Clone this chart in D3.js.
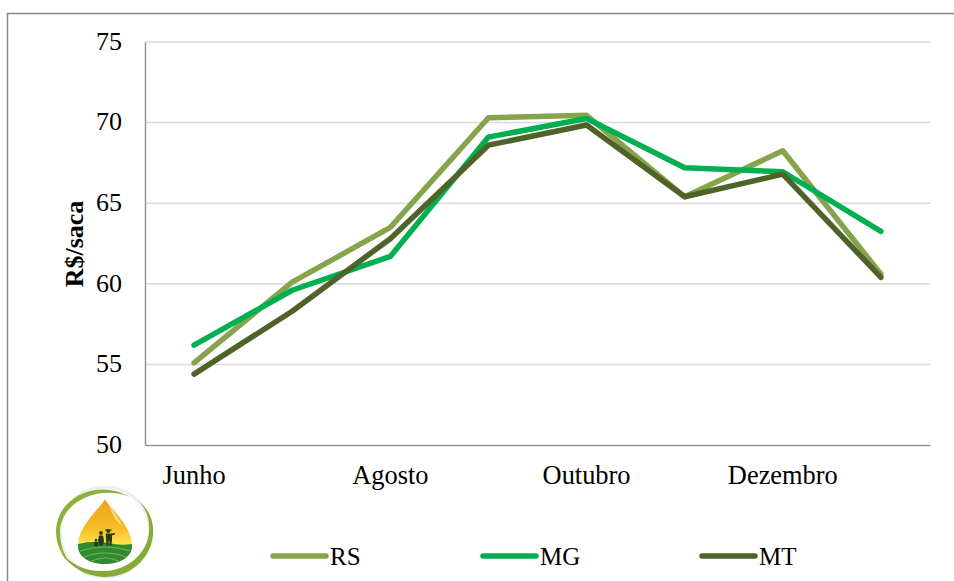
<!DOCTYPE html>
<html>
<head>
<meta charset="utf-8">
<script src="https://cdn.jsdelivr.net/npm/d3@7"></script>
<style>
  html, body { margin: 0; padding: 0; background: #fff; }
  svg { display: block; }
  text { font-family: "Liberation Serif", serif; fill: #000; }
</style>
</head>
<body>
<div id="chart"></div>
<script>
// Values
const months = ["Junho", "Julho", "Agosto", "Setembro", "Outubro", "Novembro", "Dezembro", "Janeiro"];
const monthLabels = ["Junho", "Agosto", "Outubro", "Dezembro"];
const yTicks = [50, 55, 60, 65, 70, 75];
const rs = [55.1, 60.1, 63.5, 70.3, 70.45, 65.4, 68.25, 60.6];
const mg = [56.2, 59.6, 61.7, 69.1, 70.25, 67.2, 66.95, 63.25];
const mt = [54.4, 58.3, 62.8, 68.6, 69.85, 65.4, 66.8, 60.4];
const seriesNames = ["RS", "MG", "MT"];
const seriesValues = [rs, mg, mt];
const seriesColors = ["#86a44c", "#00b050", "#4f6228"];

const width = 954, height = 581;
const margin = { top: 42, right: 24, bottom: 136, left: 145 };

const svg = d3.select("#chart").append("svg")
    .attr("width", width)
    .attr("height", height);

// Outer frame, only top and left show in the picture
svg.append("path")
    .attr("d", `M7.5,${height}V13.5H${width}`)
    .attr("fill", "none")
    .attr("stroke", "#868686")
    .attr("stroke-width", 1.5);

const x = d3.scaleBand()
    .domain(months)
    .range([margin.left, width - margin.right]);

const y = d3.scaleLinear()
    .domain([50, 75])
    .range([height - margin.bottom, margin.top]);

// Gridlines
svg.append("g")
    .selectAll("line")
    .data(yTicks.filter(d => d > 50))
    .enter().append("line")
    .attr("x1", margin.left)
    .attr("x2", width - margin.right)
    .attr("y1", d => y(d))
    .attr("y2", d => y(d))
    .attr("stroke", "#d9d9d9")
    .attr("stroke-width", 1.5);

// Axes
const yAxis = svg.append("g")
    .attr("transform", `translate(${margin.left},-1)`)
    .call(d3.axisLeft(y).tickValues(yTicks).tickSize(0).tickPadding(23));
yAxis.select(".domain").attr("transform", "translate(0,1)").attr("stroke", "#969696").attr("stroke-width", 1.5);
yAxis.selectAll("text").style("font-size", "26px").style("font-family", "Liberation Serif");

const xAxis = svg.append("g")
    .attr("transform", `translate(0,${height - margin.bottom})`)
    .call(d3.axisBottom(x).tickValues(monthLabels).tickSize(0).tickPadding(20));
xAxis.select(".domain").attr("stroke", "#969696").attr("stroke-width", 1.5);
xAxis.selectAll("text").style("font-size", "26.4px").style("font-family", "Liberation Serif");

// Y title
svg.append("text")
    .attr("transform", `translate(83,244) rotate(-90)`)
    .attr("text-anchor", "middle")
    .style("font-size", "26px")
    .style("font-weight", "bold")
    .text("R$/saca");

// Lines
const line = d3.line()
    .x((d, i) => x(months[i]) + x.bandwidth() / 2)
    .y(d => y(d));

svg.append("g")
    .selectAll("path")
    .data(seriesValues)
    .enter().append("path")
    .attr("d", line)
    .attr("fill", "none")
    .attr("stroke", (d, i) => seriesColors[i])
    .attr("stroke-width", 5.5)
    .attr("stroke-linejoin", "round")
    .attr("stroke-linecap", "round");

// Legend
const legendX = [271, 481, 700];
const legend = svg.append("g")
    .selectAll("g")
    .data(seriesNames)
    .enter().append("g")
    .attr("transform", (d, i) => `translate(${legendX[i]},556)`);

legend.append("line")
    .attr("x1", 2)
    .attr("x2", 55)
    .attr("stroke", (d, i) => seriesColors[i])
    .attr("stroke-width", 5.5)
    .attr("stroke-linecap", "round");

legend.append("text")
    .attr("x", 59)
    .attr("y", 9)
    .style("font-size", "25px")
    .text(d => d);

// Logo in the lower left corner
const logo = svg.append("g");
const defs = svg.append("defs");
const dropGrad = defs.append("linearGradient")
    .attr("id", "dropGrad")
    .attr("x1", 0).attr("x2", 0).attr("y1", 0).attr("y2", 1);
dropGrad.append("stop").attr("offset", "0%").attr("stop-color", "#eda41e");
dropGrad.append("stop").attr("offset", "45%").attr("stop-color", "#f6bd25");
dropGrad.append("stop").attr("offset", "70%").attr("stop-color", "#ffe650");
const dropPath = "M105,499C100,509 78,525 78,546C78,557 90,564 105,564C120,564 132,557 132,546C132,525 110,509 105,499Z";
defs.append("clipPath").attr("id", "dropClip").append("path").attr("d", dropPath);

// faint shadow inside the ring
logo.append("circle")
    .attr("cx", 105).attr("cy", 532).attr("r", 45)
    .attr("fill", "#fff")
    .attr("stroke", "#eeeeee")
    .attr("stroke-width", 3);
logo.append("path")
    .attr("d", "M130,497C97,478 57,497 56,531C56,545 62,556 70,563C63,553 60,543 60,531C61,503 97,484 130,497Z")
    .attr("fill", "#8db23c");
logo.append("path")
    .attr("d", "M137,499C150,510 154,522 153,535C151,560 128,578 103,577C87,576 72,569 60,552C73,566 88,572 105,571C128,570 148,553 149,531C150,519 146,508 137,499Z")
    .attr("fill", "#86ab38");
logo.append("path").attr("d", dropPath).attr("fill", "url(#dropGrad)");
logo.append("path")
    .attr("d", "M109,505C114,513 119,518 122,526C116,521 112,514 109,505Z")
    .attr("fill", "#fbe08a");
logo.append("path")
    .attr("d", "M78,544Q95,540 108,543T132,544V566H78Z")
    .attr("clip-path", "url(#dropClip)")
    .attr("fill", "#2f8a34");
logo.append("path")
    .attr("d", "M80,551Q105,543 130,551M84,557Q105,549 126,557M90,562Q105,554 120,562")
    .attr("clip-path", "url(#dropClip)")
    .attr("fill", "none")
    .attr("stroke", "#7fb048")
    .attr("stroke-width", 1.2);
// Family silhouette: man, woman, child
const ink = "#233c14";
logo.append("circle").attr("cx", 108.3).attr("cy", 531).attr("r", 2).attr("fill", ink);
logo.append("path").attr("d", "M105,529.5h6.6v1h-6.6Z").attr("fill", ink);
logo.append("path")
    .attr("d", "M105.6,533.5h5.4l4,-0.5v1.2l-3,1.2v4l-0.6,6h-1.6l-0.8,-6l-0.8,6h-1.6l-0.5,-6Z")
    .attr("fill", ink);
logo.append("circle").attr("cx", 101).attr("cy", 533).attr("r", 1.9).attr("fill", ink);
logo.append("path")
    .attr("d", "M99,535.5h4l1,5l-0.8,3.5l-0.6,2h-1.1l-0.5,-2l-0.5,2h-1.1l-0.6,-2l-0.8,-3.5Z")
    .attr("fill", ink);
logo.append("circle").attr("cx", 96).attr("cy", 540).attr("r", 1.3).attr("fill", ink);
logo.append("path")
    .attr("d", "M94.5,541.5h3l0.4,3.5l-0.4,1.5h-3l-0.4,-1.5Z")
    .attr("fill", ink);
</script>
</body>
</html>
